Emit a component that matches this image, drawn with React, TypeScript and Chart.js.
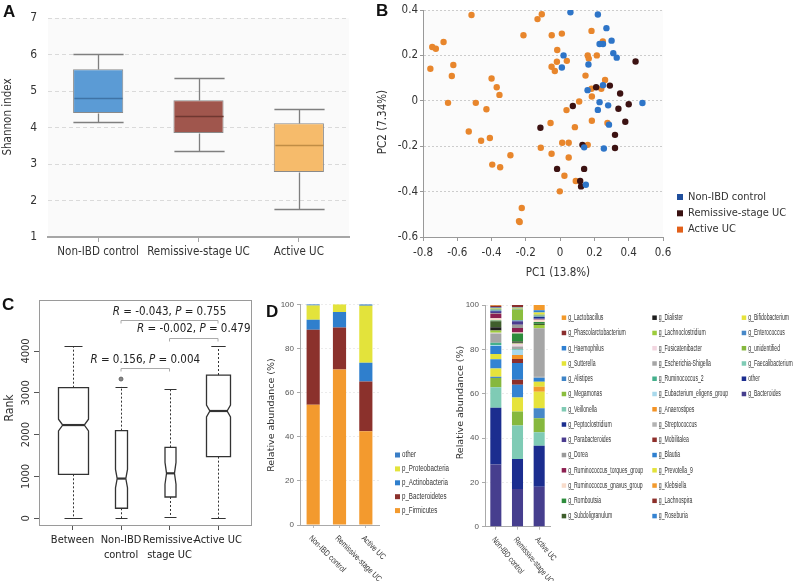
import React, { useEffect, useRef } from "react";
import { Chart, registerables } from "chart.js";

Chart.register(...registerables);

const SANS = '"DejaVu Sans Condensed", "DejaVu Sans", "Liberation Sans", sans-serif';
const WIDE = '"DejaVu Sans", "Liberation Sans", sans-serif';
const NARROW = '"Liberation Sans Narrow", "Liberation Sans", "DejaVu Sans Condensed", sans-serif';

// ---------------- Panel A: Shannon index ----------------
const aGroups = ["Non-IBD control", "Remissive-stage UC", "Active UC"];
const aMin = [4.15, 3.35, 1.78];
const aQ1 = [4.4, 3.85, 2.78];
const aMedian = [4.8, 4.32, 3.52];
const aQ3 = [5.6, 4.75, 4.12];
const aMax = [6.02, 5.35, 4.5];
const aYTicks = [1, 2, 3, 4, 5, 6, 7];
const aFill = ["#5b9bd5", "#a0564d", "#f6bb6b"];
const aMedianColor = ["#3f73a6", "#6e3730", "#c08d45"];

// ---------------- Panel B: PCoA ----------------
const bGroups = ["Non-IBD control", "Remissive-stage UC", "Active UC"];
const bNonIbdPC1 = [0.06, 0.22, 0.27, 0.23, 0.25, 0.3, 0.31, 0.33, 0.02, 0.01, 0.165, 0.16, 0.25, 0.23, 0.22, 0.28, 0.48, 0.285, 0.14, 0.255, 0.15];
const bNonIbdPC2 = [0.39, 0.38, 0.32, 0.25, 0.25, 0.265, 0.21, 0.19, 0.2, 0.147, 0.16, 0.047, 0.069, -0.006, -0.04, -0.02, -0.01, -0.105, -0.205, -0.21, -0.37];
const bRemPC1 = [0.44, 0.29, 0.21, 0.35, 0.074, 0.34, 0.4, 0.38, -0.115, 0.32, 0.32, 0.13, 0.14, -0.018, 0.117, 0.122];
const bRemPC2 = [0.173, 0.067, 0.06, 0.032, -0.023, -0.035, -0.015, -0.092, -0.119, -0.15, -0.208, -0.194, -0.3, -0.3, -0.353, -0.377];
const bActPC1 = [-0.517, -0.107, -0.132, -0.214, -0.049, 0.01, 0.183, -0.746, -0.725, -0.68, -0.757, -0.623, -0.632, -0.4, -0.37, -0.354, -0.654, -0.492, -0.43, -0.533, -0.461, -0.41, -0.396, -0.35, -0.29, -0.224, -0.24, -0.236, -0.017, -0.05, -0.031, -0.019, 0.039, 0.161, 0.214, 0.167, 0.148, 0.249, 0.262, 0.183, 0.24, 0.185, 0.111, 0.037, -0.056, 0.086, 0.185, 0.276, -0.113, 0.012, 0.05, 0.161, -0.05, 0.05, 0.025, 0.091, -0.002];
const bActPC2 = [0.378, 0.381, 0.36, 0.289, 0.289, 0.296, 0.308, 0.237, 0.229, 0.259, 0.141, 0.158, 0.109, 0.098, 0.06, 0.026, -0.009, -0.009, -0.037, -0.135, -0.176, -0.164, -0.281, -0.293, -0.24, -0.472, -0.53, -0.534, 0.224, 0.15, 0.131, 0.172, 0.176, 0.2, 0.2, 0.186, 0.111, 0.261, 0.092, 0.053, 0.053, 0.019, -0.003, -0.041, -0.098, -0.116, -0.088, -0.098, -0.207, -0.185, -0.185, -0.194, -0.233, -0.25, -0.33, -0.353, -0.399];
const bXTicks = [-0.8, -0.6, -0.4, -0.2, 0, 0.2, 0.4, 0.6];
const bYTicks = [-0.6, -0.4, -0.2, 0, 0.2, 0.4];
const bPointColor = ["#2e75c8", "#3c1212", "#e8862c"];
const bLegendColor = ["#1f4e9c", "#3a1212", "#e2601a"];

// ---------------- Panel C: ANOSIM ranks ----------------
const cGroups = [["Between"], ["Non-IBD", "control"], ["Remissive-", "stage UC"], ["Active UC"]];
const cLow = [0, 0, 40, 0];
const cQ1 = [1052, 240, 510, 1474];
const cMedian = [2230, 950, 1076, 2566];
const cQ3 = [3123, 2096, 1697, 3426];
const cHigh = [4120, 3150, 3092, 4120];
const cNotch = [140, 220, 260, 140];
const cOutlierGroup = [2];
const cOutlierRank = [3330];
const cYTicks = [0, 1000, 2000, 3000, 4000];
const cCompFrom = [2, 3, 2];
const cCompTo = [4, 4, 3];
const cCompR = ["-0.043", "-0.002", "0.156"];
const cCompP = ["0.755", "0.479", "0.004"];

// ---------------- Panel D: relative abundance ----------------
const dGroups = ["Non-IBD control", "Remissive-stage UC", "Active UC"];
const dYTicks = [0, 20, 40, 60, 80, 100];
const phylumNames = ["p_Firmicutes", "p_Bacteroidetes", "p_Actinobacteria", "p_Proteobacteria", "other"];
const phylumNonIbd = [54.5, 34, 4.5, 6.5, 0.5];
const phylumRemissive = [70.5, 19, 7, 3.5, 0];
const phylumActive = [42.5, 22.5, 8.5, 25.8, 0.7];
const phylumColors = ["#f39a2e", "#8b312c", "#2f7fcd", "#e3e33b", "#3a7ec6"];

const genusNames = [
  "g_Bacteroides", "other", "g_Faecalibacterium", "g_unidentified", "g_Enterococcus", "g_Bifidobacterium",
  "g_Roseburia", "g_Lachnospira", "g_Klebsiella", "g_Prevotella_9", "g_Blautia", "g_Mobilitalea",
  "g_Streptococcus", "g_Anaerostipes", "g_Eubacterium_eligens_group", "g_Ruminococcus_2", "g_Escherichia-Shigella",
  "g_Fusicatenibacter", "g_Lachnoclostridium", "g_Dialister", "g_Subdoligranulum", "g_Romboutsia",
  "g_Ruminococcus_gnavus_group", "g_Ruminococcus_torques_group", "g_Dorea", "g_Parabacteroides",
  "g_Peptoclostridium", "g_Veillonella", "g_Megamonas", "g_Alistipes", "g_Sutterella", "g_Haemophilus",
  "g_Phascolarctobacterium", "g_Lactobacillus",
];
const genusNonIbd = [28, 25.6, 9.3, 4.2, 0.5, 3.8, 4.1, 0, 0, 2.4, 3.6, 0, 0, 0, 0.5, 1.0, 4.2, 0.3, 1.0, 1.5, 2.7, 0.3, 1.0, 2.0, 0.4, 0.6, 0.4, 0.3, 0.3, 0.3, 0.3, 0.3, 0.8, 0.3];
const genusRemissive = [17, 13.5, 15.2, 6.3, 0, 6.3, 5.7, 2.3, 0, 0, 7.5, 1.8, 0, 1.9, 2.3, 0.3, 1.2, 1.2, 0.3, 0.3, 0.5, 3.5, 0.5, 2.0, 1.5, 1.5, 0.3, 0.3, 4.8, 0.3, 0.5, 0.2, 1.0, 0];
const genusActive = [18, 18.5, 6.1, 6.3, 4.5, 7.5, 0, 0, 2.2, 2.3, 1.8, 0, 0.8, 0, 0, 0, 21.5, 0, 1.5, 0, 0.5, 0.8, 1.0, 0.3, 0, 0.3, 0.8, 0.3, 0.3, 0.3, 1.0, 1.0, 0, 2.4];
const genusColors = [
  "#463e8e", "#1b2d8f", "#7fcbb5", "#86b83e", "#4788c8", "#e6e33c",
  "#3583d2", "#8c2f2a", "#f29a2e", "#e3e23a", "#2f80d0", "#8e2f2b",
  "#b3b3b3", "#f39325", "#a9d9ec", "#44b08c", "#a6a6a6",
  "#f2d6e0", "#9dcc3d", "#1e1e1e", "#3f5e2c", "#2d8c3c",
  "#f8dccb", "#8c1f50", "#9a9a9a", "#4b3c8f",
  "#1b2e8f", "#80cab4", "#8bbe3e", "#3e84c7", "#e4e437", "#2f80d2",
  "#8a2d2d", "#f39a2b",
];

// ---------------- helpers ----------------
type TextItem = { text: string; x: number; y: number; rot?: number; font: string; color?: string; align?: CanvasTextAlign; base?: CanvasTextBaseline };

function textPlugin(id: string, items: TextItem[]) {
  return {
    id,
    afterDraw(chart: any) {
      const ctx = chart.ctx;
      items.forEach((t) => {
        ctx.save();
        ctx.translate(t.x, t.y);
        if (t.rot) ctx.rotate(t.rot);
        ctx.font = t.font;
        ctx.fillStyle = t.color || "#333";
        ctx.textAlign = t.align || "center";
        ctx.textBaseline = t.base || "middle";
        ctx.fillText(t.text, 0, 0);
        ctx.restore();
      });
    },
  };
}

function areaBg(color: string) {
  return {
    id: "areaBg",
    beforeDraw(chart: any) {
      const { ctx, chartArea: a } = chart;
      ctx.save();
      ctx.fillStyle = color;
      ctx.fillRect(a.left, a.top, a.right - a.left, a.bottom - a.top);
      ctx.restore();
    },
  };
}

// legend laid out column by column; text is horizontally compressed so that
// the reference text (fitText) takes fitWidth pixels
function gridLegend(opts: { cols: number[]; y0: number; rowH: number; perCol: number; box: number; dx: number; font: string; fitText?: string; fitWidth?: number; reverse: boolean; colorKey?: string }) {
  return {
    id: "gridLegend",
    afterDraw(chart: any) {
      const ctx = chart.ctx;
      let ds = chart.data.datasets.slice();
      if (opts.reverse) ds = ds.reverse();
      ctx.save();
      ctx.font = opts.font;
      const sx = opts.fitText ? Math.min(1, (opts.fitWidth as number) / ctx.measureText(opts.fitText).width) : 1;
      ctx.restore();
      ds.forEach((d: any, k: number) => {
        const col = Math.floor(k / opts.perCol);
        const row = k % opts.perCol;
        const x = opts.cols[col];
        const y = opts.y0 + row * opts.rowH;
        ctx.save();
        ctx.fillStyle = opts.colorKey ? d[opts.colorKey] : d.backgroundColor;
        ctx.fillRect(x, y - opts.box / 2, opts.box, opts.box);
        ctx.translate(x + opts.dx, y);
        ctx.scale(sx, 1);
        ctx.font = opts.font;
        ctx.fillStyle = "#333";
        ctx.textAlign = "left";
        ctx.textBaseline = "middle";
        ctx.fillText(d.label, 0, 0);
        ctx.restore();
      });
    },
  };
}

function rotLabels(labels: string[], dx: number, dy: number, angle: number, font: string, fitWidth: number) {
  return {
    id: "rotLabels",
    afterDraw(chart: any) {
      const ctx = chart.ctx;
      const xs = chart.scales.x;
      const a = chart.chartArea;
      ctx.save();
      ctx.font = font;
      const sx = Math.min(1, fitWidth / ctx.measureText(labels[0]).width);
      ctx.restore();
      labels.forEach((t, i) => {
        ctx.save();
        ctx.translate(xs.getPixelForValue(i) + dx, a.bottom + dy);
        ctx.rotate(angle);
        ctx.scale(sx, 1);
        ctx.font = font;
        ctx.fillStyle = "#333";
        ctx.textAlign = "left";
        ctx.textBaseline = "middle";
        ctx.fillText(t, 0, 0);
        ctx.restore();
      });
    },
  };
}

const fmt1 = (v: number) => (Math.abs(v) < 1e-9 ? "0" : v.toFixed(1));

// ---------------- configs ----------------
function configA(): any {
  const whiskers = {
    id: "whiskersA",
    afterDatasetsDraw(chart: any) {
      const ctx = chart.ctx;
      const y = chart.scales.y;
      const meta = chart.getDatasetMeta(0);
      const py = (v: number) => Math.round(y.getPixelForValue(v)) + 0.5;
      ctx.save();
      meta.data.forEach((el: any, i: number) => {
        const x = Math.round(el.x) + 0.5;
        const h = el.width / 2;
        ctx.strokeStyle = "#7f7f7f";
        ctx.lineWidth = 1.3;
        ctx.beginPath();
        ctx.moveTo(x, py(aQ3[i]));
        ctx.lineTo(x, py(aMax[i]));
        ctx.moveTo(x, py(aQ1[i]));
        ctx.lineTo(x, py(aMin[i]));
        ctx.moveTo(x - h, py(aMax[i]));
        ctx.lineTo(x + h, py(aMax[i]));
        ctx.moveTo(x - h, py(aMin[i]));
        ctx.lineTo(x + h, py(aMin[i]));
        ctx.stroke();
        ctx.strokeStyle = aMedianColor[i];
        ctx.lineWidth = 1.5;
        ctx.beginPath();
        ctx.moveTo(x - h + 1, py(aMedian[i]));
        ctx.lineTo(x + h - 1, py(aMedian[i]));
        ctx.stroke();
      });
      ctx.restore();
    },
  };
  return {
    type: "bar",
    data: {
      labels: aGroups,
      datasets: [
        {
          label: "Shannon index",
          data: aGroups.map((_, i) => [aQ1[i], aQ3[i]]),
          backgroundColor: aFill,
          borderColor: "#8a8a8a",
          borderWidth: 1,
          borderSkipped: false,
          barPercentage: 0.5,
          categoryPercentage: 1,
        },
      ],
    },
    options: {
      responsive: false,
      animation: false,
      layout: { padding: { left: 0, right: 21, top: 13, bottom: 0 } },
      plugins: { legend: { display: false }, tooltip: { enabled: false } },
      scales: {
        x: {
          afterFit: (s: any) => { s.height = 48; },
          grid: { offset: false, drawOnChartArea: false, tickLength: 5, color: "#a6a6a6" },
          border: { color: "#a6a6a6", width: 2 },
          ticks: { font: { family: SANS, size: 11.5 }, color: "#333", padding: 3, maxRotation: 0, autoSkip: false },
        },
        y: {
          min: 1,
          max: 7,
          afterFit: (s: any) => { s.width = 48; },
          afterBuildTicks: (s: any) => { s.ticks = aYTicks.map((v) => ({ value: v })); },
          grid: { color: (c: any) => (c.tick && c.tick.value === 1 ? "rgba(0,0,0,0)" : "#dadada"), drawTicks: false },
          border: { display: false, dash: [4, 3] },
          ticks: { padding: 11, font: { family: SANS, size: 12 }, color: "#333" },
        },
      },
    },
    plugins: [
      areaBg("#fafafa"),
      whiskers,
      textPlugin("textA", [{ text: "Shannon index", x: 8, y: 117, rot: -Math.PI / 2, font: `11.5px ${SANS}` }]),
    ],
  };
}

function configB(): any {
  const mk = (xs: number[], ys: number[]) => xs.map((x, i) => ({ x, y: ys[i] }));
  const sets = [mk(bNonIbdPC1, bNonIbdPC2), mk(bRemPC1, bRemPC2), mk(bActPC1, bActPC2)];
  return {
    type: "scatter",
    data: {
      datasets: bGroups.map((g, i) => ({
        label: g,
        data: sets[i],
        backgroundColor: bPointColor[i],
        legendColor: bLegendColor[i],
        pointRadius: 3.2,
        borderWidth: 0,
      })),
    },
    options: {
      responsive: false,
      animation: false,
      layout: { padding: { left: 0, right: 130, top: 10, bottom: 0 } },
      plugins: { legend: { display: false }, tooltip: { enabled: false } },
      scales: {
        x: {
          type: "linear",
          min: -0.8,
          max: 0.6,
          afterFit: (s: any) => { s.height = 48; },
          afterBuildTicks: (s: any) => { s.ticks = bXTicks.map((v) => ({ value: v })); },
          grid: { drawOnChartArea: false, tickLength: 4, color: "#999" },
          border: { color: "#999", width: 1 },
          ticks: { callback: (v: any) => fmt1(Number(v)), font: { family: SANS, size: 11.5 }, color: "#333", padding: 5, maxRotation: 0, autoSkip: false },
        },
        y: {
          min: -0.6,
          max: 0.4,
          afterFit: (s: any) => { s.width = 53; },
          afterBuildTicks: (s: any) => { s.ticks = bYTicks.map((v) => ({ value: v })); },
          grid: {
            color: (c: any) => (c.tick && Math.abs(c.tick.value + 0.6) < 1e-6 ? "rgba(0,0,0,0)" : "#cccccc"),
            tickColor: "#999",
            tickLength: 3,
            tickBorderDash: [],
          },
          border: { color: "#999", width: 1, dash: [2, 2] },
          ticks: { callback: (v: any) => fmt1(Number(v)), font: { family: SANS, size: 11.5 }, color: "#333", padding: 2, autoSkip: false },
        },
      },
    },
    plugins: [
      areaBg("#fbfbfb"),
      gridLegend({ cols: [307], y0: 197, rowH: 16.3, perCol: 3, box: 6, dx: 11, font: `11px ${SANS}`, reverse: false, colorKey: "legendColor" }),
      textPlugin("textB", [
        { text: "PC1 (13.8%)", x: 188, y: 273, font: `11.5px ${SANS}` },
        { text: "PC2 (7.34%)", x: 13, y: 122, rot: -Math.PI / 2, font: `11.5px ${SANS}` },
      ]),
    ],
  };
}

function configC(): any {
  const boxHalf = [15, 6, 5.5, 12];
  const boxes = {
    id: "boxesC",
    beforeDatasetsDraw(chart: any) {
      const ctx = chart.ctx;
      const xs = chart.scales.x;
      const ys = chart.scales.y;
      const a = chart.chartArea;
      ctx.save();
      ctx.strokeStyle = "#9a9a9a";
      ctx.lineWidth = 1;
      ctx.strokeRect(Math.round(a.left) + 0.5, Math.round(a.top) + 0.5, Math.round(a.right - a.left), Math.round(a.bottom - a.top));
      cMedian.forEach((med, i) => {
        const cx = Math.round(xs.getPixelForValue(i + 1)) + 0.5;
        const h = boxHalf[i];
        const n = h * 0.72;
        const p = (v: number) => ys.getPixelForValue(v);
        ctx.strokeStyle = "#333";
        ctx.lineWidth = 1;
        ctx.setLineDash([2, 2]);
        ctx.beginPath();
        ctx.moveTo(cx, p(cQ3[i]));
        ctx.lineTo(cx, p(cHigh[i]));
        ctx.moveTo(cx, p(cQ1[i]));
        ctx.lineTo(cx, p(cLow[i]));
        ctx.stroke();
        ctx.setLineDash([]);
        const cap = Math.max(h * 0.6, 6);
        ctx.beginPath();
        ctx.moveTo(cx - cap, Math.round(p(cHigh[i])) + 0.5);
        ctx.lineTo(cx + cap, Math.round(p(cHigh[i])) + 0.5);
        ctx.moveTo(cx - cap, Math.round(p(cLow[i])) + 0.5);
        ctx.lineTo(cx + cap, Math.round(p(cLow[i])) + 0.5);
        ctx.stroke();
        ctx.fillStyle = "#fff";
        ctx.lineWidth = 1.3;
        ctx.beginPath();
        ctx.moveTo(cx - h, p(cQ1[i]));
        ctx.lineTo(cx - h, p(med - cNotch[i]));
        ctx.lineTo(cx - n, p(med));
        ctx.lineTo(cx - h, p(med + cNotch[i]));
        ctx.lineTo(cx - h, p(cQ3[i]));
        ctx.lineTo(cx + h, p(cQ3[i]));
        ctx.lineTo(cx + h, p(med + cNotch[i]));
        ctx.lineTo(cx + n, p(med));
        ctx.lineTo(cx + h, p(med - cNotch[i]));
        ctx.lineTo(cx + h, p(cQ1[i]));
        ctx.closePath();
        ctx.fill();
        ctx.stroke();
        ctx.lineWidth = 2.2;
        ctx.beginPath();
        ctx.moveTo(cx - n, p(med));
        ctx.lineTo(cx + n, p(med));
        ctx.stroke();
      });
      ctx.restore();
    },
    afterDraw(chart: any) {
      const ctx = chart.ctx;
      const xs = chart.scales.x;
      const ys = chart.scales.y;
      const a = chart.chartArea;
      ctx.save();
      ctx.font = `11px ${SANS}`;
      ctx.fillStyle = "#333";
      ctx.textAlign = "center";
      ctx.textBaseline = "middle";
      cYTicks.forEach((v) => {
        ctx.save();
        ctx.translate(a.left - 13, ys.getPixelForValue(v));
        ctx.rotate(-Math.PI / 2);
        ctx.fillText(String(v), 0, 0);
        ctx.restore();
      });
      const bracketY = [4740, 4303, 3600];
      const textDy = [-8, -9.5, -8];
      cCompFrom.forEach((f, k) => {
        const x1 = xs.getPixelForValue(f);
        const x2 = xs.getPixelForValue(cCompTo[k]);
        const y = Math.round(ys.getPixelForValue(bracketY[k])) + 0.5;
        ctx.strokeStyle = "#aaa";
        ctx.lineWidth = 1;
        ctx.beginPath();
        ctx.moveTo(x1, y + 3);
        ctx.lineTo(x1, y);
        ctx.lineTo(x2, y);
        ctx.lineTo(x2, y + 3);
        ctx.stroke();
        const parts: [string, boolean][] = [["R", true], [` = ${cCompR[k]}, `, false], ["P", true], [` = ${cCompP[k]}`, false]];
        const fontOf = (it: boolean) => `${it ? "italic " : ""}11.5px ${SANS}`;
        let total = 0;
        parts.forEach(([t, it]) => { ctx.font = fontOf(it); total += ctx.measureText(t).width; });
        let x = (x1 + x2) / 2 - total / 2;
        ctx.fillStyle = "#222";
        ctx.textAlign = "left";
        ctx.textBaseline = "middle";
        parts.forEach(([t, it]) => {
          ctx.font = fontOf(it);
          ctx.fillText(t, x, y + textDy[k]);
          x += ctx.measureText(t).width;
        });
      });
      ctx.restore();
    },
  };
  return {
    type: "scatter",
    data: {
      datasets: [
        {
          label: "outlier",
          data: cOutlierGroup.map((g, i) => ({ x: g, y: cOutlierRank[i] })),
          pointRadius: 2,
          backgroundColor: "#888",
          borderColor: "#555",
          borderWidth: 0.8,
        },
      ],
    },
    options: {
      responsive: false,
      animation: false,
      layout: { padding: { left: 0, right: 11, top: 15, bottom: 0 } },
      plugins: { legend: { display: false }, tooltip: { enabled: false } },
      scales: {
        x: {
          type: "linear",
          min: 0.309,
          max: 4.68,
          afterFit: (s: any) => { s.height = 56; },
          afterBuildTicks: (s: any) => { s.ticks = cGroups.map((_, i) => ({ value: i + 1 })); },
          grid: { drawOnChartArea: false, tickLength: 5, color: "#555" },
          border: { display: false },
          ticks: {
            callback: (v: any) => cGroups[Math.round(Number(v)) - 1],
            font: { family: SANS, size: 11, lineHeight: 1.4 },
            color: "#222",
            padding: 2,
            maxRotation: 0,
            autoSkip: false,
          },
        },
        y: {
          min: -160,
          max: 5220,
          afterFit: (s: any) => { s.width = 39; },
          afterBuildTicks: (s: any) => { s.ticks = cYTicks.map((v) => ({ value: v })); },
          grid: { drawOnChartArea: false, tickLength: 5, color: "#555" },
          border: { display: false },
          ticks: { display: false },
        },
      },
    },
    plugins: [boxes, textPlugin("textC", [{ text: "Rank", x: 10, y: 123, rot: -Math.PI / 2, font: `12px ${SANS}` }])],
  };
}

function stackedScales(xHeight: number, yWidth: number) {
  return {
    x: {
      stacked: true,
      afterFit: (s: any) => { s.height = xHeight; },
      grid: { offset: false, drawOnChartArea: false, tickLength: 3, color: "#bbb" },
      border: { color: "#aaa", width: 1 },
      ticks: { display: false },
    },
    y: {
      stacked: true,
      min: 0,
      max: 100,
      afterFit: (s: any) => { s.width = yWidth; },
      afterBuildTicks: (s: any) => { s.ticks = dYTicks.map((v) => ({ value: v })); },
      grid: { color: (c: any) => (c.tick && c.tick.value === 0 ? "rgba(0,0,0,0)" : "#ececec"), tickColor: "#aaa", tickLength: 3 },
      border: { color: "#aaa", width: 1, dash: [2, 2] },
      ticks: { font: { family: NARROW, size: 8 }, color: "#555", padding: 3 },
    },
  };
}

function configD1(): any {
  const vals = [phylumNonIbd, phylumRemissive, phylumActive];
  return {
    type: "bar",
    data: {
      labels: dGroups,
      datasets: phylumNames.map((n, k) => ({
        label: n,
        data: vals.map((v) => v[k]),
        backgroundColor: phylumColors[k],
        borderWidth: 0,
        barPercentage: 0.5,
        categoryPercentage: 1,
      })),
    },
    options: {
      responsive: false,
      animation: false,
      layout: { padding: { left: 0, right: 78, top: 14.3, bottom: 0 } },
      plugins: { legend: { display: false }, tooltip: { enabled: false } },
      scales: stackedScales(56, 38),
    },
    plugins: [
      gridLegend({ cols: [133], y0: 165, rowH: 13.9, perCol: 5, box: 5, dx: 7, font: `8.5px ${NARROW}`, fitText: "p_Proteobacteria", fitWidth: 47, reverse: true }),
      rotLabels(dGroups, -3, 12, Math.PI / 4, `8.5px ${NARROW}`, 48),
      textPlugin("textD1", [{ text: "Relative abundance (%)", x: 10, y: 125, rot: -Math.PI / 2, font: `9.5px ${WIDE}` }]),
    ],
  };
}

function configD2(): any {
  const vals = [genusNonIbd, genusRemissive, genusActive];
  return {
    type: "bar",
    data: {
      labels: dGroups,
      datasets: genusNames.map((n, k) => ({
        label: n,
        data: vals.map((v) => v[k]),
        backgroundColor: genusColors[k],
        borderWidth: 0,
        barPercentage: 0.51,
        categoryPercentage: 1,
      })),
    },
    options: {
      responsive: false,
      animation: false,
      layout: { padding: { left: 0, right: 243, top: 15, bottom: 0 } },
      plugins: { legend: { display: false }, tooltip: { enabled: false } },
      scales: stackedScales(54.3, 45),
    },
    plugins: [
      gridLegend({ cols: [121.7, 212.3, 301.7], y0: 27.7, rowH: 15.26, perCol: 14, box: 4.5, dx: 6.5, font: `8.5px ${NARROW}`, fitText: "g_Ruminococcus_torques_group", fitWidth: 75, reverse: true }),
      rotLabels(dGroups, -2.5, 11.5, 0.28 * Math.PI, `8.5px ${NARROW}`, 45),
      textPlugin("textD2", [{ text: "Relative abundance (%)", x: 21, y: 112.5, rot: -Math.PI / 2, font: `9.5px ${WIDE}` }]),
    ],
  };
}

const letterStyle = (left: number, top: number): React.CSSProperties => ({
  position: "absolute",
  left,
  top,
  font: 'bold 17px "Liberation Sans", Arial, sans-serif',
  lineHeight: "17px",
  color: "#111",
});

export default function App() {
  const refA = useRef<HTMLCanvasElement>(null);
  const refB = useRef<HTMLCanvasElement>(null);
  const refC = useRef<HTMLCanvasElement>(null);
  const refD1 = useRef<HTMLCanvasElement>(null);
  const refD2 = useRef<HTMLCanvasElement>(null);

  useEffect(() => {
    const charts = [
      new Chart(refA.current as HTMLCanvasElement, configA()),
      new Chart(refB.current as HTMLCanvasElement, configB()),
      new Chart(refC.current as HTMLCanvasElement, configC()),
      new Chart(refD1.current as HTMLCanvasElement, configD1()),
      new Chart(refD2.current as HTMLCanvasElement, configD2()),
    ];
    return () => charts.forEach((c) => c.destroy());
  }, []);

  const abs = (left: number, top: number): React.CSSProperties => ({ position: "absolute", left, top });

  return (
    <div style={{ position: "absolute", left: 0, top: 0, width: 793, height: 581, background: "#fff", overflow: "hidden" }}>
      <canvas ref={refA} width={370} height={285} style={abs(0, 0)} />
      <canvas ref={refB} width={423} height={285} style={abs(370, 0)} />
      <canvas ref={refC} width={262} height={296} style={abs(0, 285)} />
      <canvas ref={refD1} width={195} height={291} style={abs(262, 290)} />
      <canvas ref={refD2} width={353} height={291} style={abs(440, 290)} />
      <div style={letterStyle(3, 3)}>A</div>
      <div style={letterStyle(376, 2)}>B</div>
      <div style={letterStyle(2, 296)}>C</div>
      <div style={letterStyle(266, 303)}>D</div>
    </div>
  );
}
